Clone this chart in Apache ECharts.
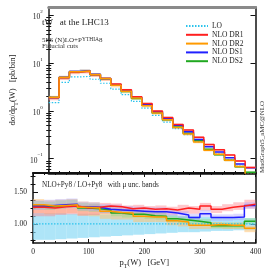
<!DOCTYPE html>
<html><head><meta charset="utf-8">
<script src="https://cdn.jsdelivr.net/npm/echarts@6/dist/echarts.min.js"></script>
<style>html,body{margin:0;padding:0;background:#fff}#c{width:270px;height:270px}</style>
</head><body><div id="c"></div>
<script>
// ---- data ----
const binEdges = [0,20,40,60,80,100,120,140,160,180,200,220,240,260,280,300,320,340,360,380,400];
// LO+Py8 cross section per bin [pb/bin]
const loXsec = [1.49,3.95,5.15,5.3,4.6,3.8,2.87,2.19,1.59,1.14,0.81,0.585,0.426,0.32,0.228,0.154,0.125,0.095,0.070,0.050];
// ratios NLO / LO (central)
const ratioLO  = [1,1,1,1,1,1,1,1,1,1,1,1,1,1,1,1,1,1,1,1];
const ratioDR1 = [1.26,1.25,1.27,1.28,1.25,1.26,1.28,1.27,1.24,1.25,1.23,1.24,1.22,1.25,1.23,1.28,1.23,1.26,1.28,1.31];
const ratioDR2 = [1.30,1.28,1.29,1.30,1.26,1.25,1.20,1.18,1.17,1.12,1.11,1.11,1.05,1.03,0.98,0.98,0.99,0.98,0.98,0.93];
const ratioDS1 = [1.28,1.29,1.30,1.31,1.27,1.26,1.23,1.22,1.21,1.20,1.19,1.19,1.17,1.14,1.10,1.16,1.10,1.10,1.11,1.29];
const ratioDS2 = [1.28,1.27,1.29,1.30,1.25,1.24,1.22,1.17,1.15,1.15,1.13,1.12,1.08,1.06,1.04,1.02,0.97,0.97,0.97,1.04];
// scale-uncertainty bands (ratio units)
const bandLOlo  = [0.75,0.75,0.76,0.77,0.78,0.79,0.80,0.81,0.82,0.83,0.84,0.85,0.86,0.87,0.87,0.88,0.89,0.89,0.90,0.90];
const bandLOhi  = [1.17,1.17,1.17,1.16,1.16,1.16,1.15,1.15,1.15,1.14,1.14,1.13,1.13,1.12,1.12,1.11,1.11,1.10,1.10,1.09];
const bandDR1lo = [1.12,1.12,1.14,1.15,1.13,1.14,1.16,1.16,1.14,1.15,1.14,1.15,1.14,1.17,1.16,1.21,1.17,1.20,1.22,1.24];
const bandDR1hi = [1.31,1.30,1.32,1.33,1.30,1.31,1.33,1.32,1.29,1.30,1.28,1.29,1.27,1.30,1.28,1.33,1.28,1.31,1.34,1.38];
const bandDR2lo = [1.17,1.15,1.16,1.17,1.13,1.12,1.08,1.07,1.07,1.03,1.03,1.03,0.98,0.96,0.92,0.92,0.93,0.92,0.92,0.87];
const bandDR2hi = [1.39,1.37,1.38,1.39,1.35,1.34,1.28,1.26,1.24,1.19,1.17,1.17,1.10,1.08,1.02,1.02,1.03,1.02,1.02,0.97];
const bandDS1lo = [1.22,1.23,1.24,1.25,1.21,1.20,1.17,1.16,1.15,1.14,1.14,1.14,1.12,1.09,1.05,1.11,1.05,1.05,1.06,1.24];
const bandDS1hi = [1.37,1.38,1.39,1.40,1.35,1.34,1.31,1.30,1.28,1.27,1.26,1.26,1.23,1.20,1.16,1.22,1.15,1.15,1.16,1.34];
const bandDS2lo = [1.23,1.22,1.24,1.25,1.20,1.19,1.17,1.12,1.10,1.10,1.08,1.07,1.03,1.01,0.99,0.97,0.93,0.93,0.93,1.00];
const bandDS2hi = [1.36,1.35,1.37,1.38,1.33,1.32,1.29,1.24,1.22,1.22,1.20,1.19,1.14,1.12,1.10,1.08,1.02,1.02,1.02,1.09];
// tick labels
const xTickLabels = [0,100,200,300,400];
const topDecades = [-1,0,1,2];
const ratioTickLabels = [1.0,1.5];
const legendNames = ['LO','NLO DR1','NLO DR2','NLO DS1','NLO DS2'];

// ---- build ----
const FONT = 'Liberation Serif, DejaVu Serif, serif';
const COL = {LO:'#2cc3ec', DR1:'#ff1f1f', DR2:'#ff9a00', DS1:'#2020ff', DS2:'#20a820'};
const BAND = {LO:'rgba(130,215,245,0.65)', DR1:'rgba(255,130,140,0.45)', DR2:'rgba(255,195,115,0.55)', DS1:'rgba(170,160,255,0.40)', DS2:'rgba(140,220,120,0.40)'};
const TOPMIN = -1.30, TOPMAX = Math.log10(150);

function stepData(vals, tf){
  const d = vals.map((v,i)=>[binEdges[i], tf(v)]);
  d.push([binEdges[binEdges.length-1], tf(vals[vals.length-1])]);
  return d;
}
const id = v=>v;
const lg = v=>Math.log10(v);
function mult(a,b){return a.map((v,i)=>v*b[i]);}

function bandSeries(xi, yi, lo, hi, color, z){
  return {type:'custom', xAxisIndex:xi, yAxisIndex:yi, z:z, silent:true, clip:true,
    data: lo.map((v,i)=>[binEdges[i], binEdges[i+1], v, hi[i]]),
    encode:{x:[0,1], y:[2,3]},
    renderItem:function(params, api){
      const p0 = api.coord([api.value(0), api.value(3)]);
      const p1 = api.coord([api.value(1), api.value(2)]);
      return {type:'rect', shape:{x:p0[0], y:p0[1], width:p1[0]-p0[0], height:p1[1]-p0[1]}, style:{fill:color}};
    }};
}
function lineSeries(name, xi, yi, data, color, dotted, z){
  return {type:'line', name:name, xAxisIndex:xi, yAxisIndex:yi, data:data, step:'end', symbol:'none', showSymbol:false, z:z,
    silent:true, animation:false, clip:true,
    lineStyle:{color:color, width: dotted?1.2:1.5, type: dotted?[1.5,1.5]:'solid'}, itemStyle:{color:color}};
}

const minorLog = [];
for (let n=-2;n<=2;n++) for (let k=2;k<=9;k++){ const v=n+Math.log10(k); if (v>TOPMIN+0.01 && v<TOPMAX) minorLog.push(v); }
const ratioMinor = [0.75,0.875,1.125,1.25,1.375,1.625,1.75];

const series = [];
const sets = [
  ['LO', ratioLO, bandLOlo, bandLOhi],
  ['DR2', ratioDR2, bandDR2lo, bandDR2hi],
  ['DR1', ratioDR1, bandDR1lo, bandDR1hi],
  ['DS2', ratioDS2, bandDS2lo, bandDS2hi],
  ['DS1', ratioDS1, bandDS1lo, bandDS1hi]
];
sets.forEach((s,k)=>{
  if (s[0] !== 'LO') series.push(bandSeries(0, 0, mult(loXsec,s[2]).map(lg), mult(loXsec,s[3]).map(lg), BAND[s[0]], 1+k));
  series.push(bandSeries(2, 4, s[2], s[3], BAND[s[0]], 1+k));
});
const lineOrder = [['LO','LO',ratioLO],['NLO DS2','DS2',ratioDS2],['NLO DS1','DS1',ratioDS1],['NLO DR1','DR1',ratioDR1],['NLO DR2','DR2',ratioDR2]];
lineOrder.forEach((l,k)=>{
  const dotted = l[1]==='LO';
  series.push(lineSeries(l[0], 0, 0, stepData(mult(loXsec,l[2]), lg), COL[l[1]], dotted, 20+k));
  series.push(lineSeries(l[0], 2, 4, stepData(l[2], id), COL[l[1]], dotted, 20+k));
});

const grids = [
  {left:33, right:14.5, top:7, height:166},
  {left:33, right:14.5, top:173, height:72}
];
const blk = '#111';
function xAx(gi, pos, opts){
  return Object.assign({type:'value', gridIndex:gi, position:pos, min:0, max:400, interval:100,
    splitLine:{show:false}, axisLabel:{show:false},
    axisLine:{show:true, onZero:false, lineStyle:{color:blk, width:1.5}},
    axisTick:{show:false}, minorTick:{show:false}}, opts);
}
const xAxis = [
  xAx(0,'bottom',{axisLine:{show:true,onZero:false,lineStyle:{color:blk,width:2.5}}, axisTick:{show:true,inside:true,length:4,lineStyle:{color:blk,width:1}}, minorTick:{show:true,splitNumber:5,length:2,lineStyle:{color:blk,width:1}}}),
  xAx(0,'top',{axisLine:{show:true,onZero:false,lineStyle:{color:'#8a8a8a',width:3}}}),
  xAx(1,'bottom',{axisLine:{show:true,onZero:false,lineStyle:{color:blk,width:1.5}}, axisTick:{show:true,inside:true,length:4,lineStyle:{color:blk,width:1}}, minorTick:{show:true,splitNumber:5,length:2,lineStyle:{color:blk,width:1}},
    axisLabel:{show:true, margin:5, fontFamily:FONT, fontSize:7.5, color:'#222', customValues:xTickLabels},
    name:'{a|p}{s|T}{a|(W)   [GeV]}', nameLocation:'middle', nameGap:15,
    nameTextStyle:{rich:{a:{fontFamily:FONT,fontSize:8.5,color:'#222',verticalAlign:'top',lineHeight:11},s:{fontFamily:FONT,fontSize:6,color:'#222',verticalAlign:'bottom',lineHeight:11}}}}),
  xAx(1,'top',{axisLine:{show:true,onZero:false,lineStyle:{color:blk,width:2}}, axisTick:{show:true,inside:true,length:4,lineStyle:{color:blk,width:1}}, minorTick:{show:true,splitNumber:5,length:2,lineStyle:{color:blk,width:1}}})
];
function yAx(gi, pos, min, max, opts){
  return Object.assign({type:'value', gridIndex:gi, position:pos, min:min, max:max,
    splitLine:{show:false}, axisLabel:{show:false},
    axisLine:{show:false}, axisTick:{show:false}}, opts);
}
const sup = v => (v<0 ? '\u2212'+(-v) : ''+v);
const yAxis = [
  yAx(0,'left',TOPMIN,TOPMAX,{axisLine:{show:true,onZero:false,lineStyle:{color:'#222',width:1.5}},
    axisTick:{show:true,inside:true,length:5,customValues:topDecades,lineStyle:{color:blk,width:1}},
    axisLabel:{show:true,customValues:topDecades,margin:6,
      formatter:v=>'{b|10}{s|'+sup(Math.round(v))+'}',
      rich:{b:{fontFamily:FONT,fontSize:7.5,color:'#222',lineHeight:12,verticalAlign:'bottom'},
            s:{fontFamily:FONT,fontSize:5,color:'#222',lineHeight:12,verticalAlign:'top'}}},
    name:'{a|d\u03c3/dp}{s|T}{a|(W)   [pb/bin]}', nameLocation:'middle', nameGap:17, nameRotate:90,
    nameTextStyle:{rich:{a:{fontFamily:FONT,fontSize:8.5,color:'#222',verticalAlign:'top',lineHeight:11},s:{fontFamily:FONT,fontSize:6,color:'#222',verticalAlign:'bottom',lineHeight:11}}}}),
  yAx(0,'left',TOPMIN,TOPMAX,{axisTick:{show:true,inside:true,length:2.5,customValues:minorLog,lineStyle:{color:blk,width:1}}}),
  yAx(0,'right',TOPMIN,TOPMAX,{axisLine:{show:true,onZero:false,lineStyle:{color:blk,width:1.5}},
    axisTick:{show:true,inside:true,length:5,customValues:topDecades,lineStyle:{color:blk,width:1}}}),
  yAx(0,'right',TOPMIN,TOPMAX,{axisTick:{show:true,inside:true,length:2.5,customValues:minorLog,lineStyle:{color:blk,width:1}}}),
  yAx(1,'left',0.7,1.8,{axisLine:{show:true,onZero:false,lineStyle:{color:blk,width:1.5}},
    axisTick:{show:true,inside:true,length:5,customValues:ratioTickLabels,lineStyle:{color:blk,width:1}},
    axisLabel:{show:true,customValues:ratioTickLabels,margin:6,fontFamily:FONT,fontSize:7.5,color:'#222',formatter:v=>v.toFixed(2)}}),
  yAx(1,'left',0.7,1.8,{axisTick:{show:true,inside:true,length:2.5,customValues:ratioMinor,lineStyle:{color:blk,width:1}}}),
  yAx(1,'right',0.7,1.8,{axisLine:{show:true,onZero:false,lineStyle:{color:blk,width:1.5}},
    axisTick:{show:true,inside:true,length:5,customValues:ratioTickLabels,lineStyle:{color:blk,width:1}}}),
  yAx(1,'right',0.7,1.8,{axisTick:{show:true,inside:true,length:2.5,customValues:ratioMinor,lineStyle:{color:blk,width:1}}})
];

// measure text widths for the small-caps subtitle pieces
const mctx = document.createElement('canvas').getContext('2d');
function tw(t, size){ mctx.font = size+'px '+FONT; return mctx.measureText(t).width; }
const subA = '5FS (N)LO+P', subB = 'YTHIA', subC = '8';
const xA = 42, xB = xA + tw(subA,7), xC = xB + tw(subB,5.5);

const chart = echarts.init(document.getElementById('c'), null, {renderer:'canvas'});
chart.setOption({
  animation:false,
  backgroundColor:'#fff',
  grid:grids, xAxis:xAxis, yAxis:yAxis, series:series,
  legend:{data:legendNames, orient:'vertical', left:180, top:17, itemWidth:22, itemHeight:6, itemGap:0.8,
    itemStyle:{opacity:0}, lineStyle:{width:2},
    textStyle:{fontFamily:FONT, fontSize:7.5, color:'#222', padding:[0,0,0,-1]}, selectedMode:false},
  graphic:[
    {type:'text', x:42, y:23, style:{text:'tW   at the LHC13', fontFamily:FONT, fontSize:9, fill:'#222', verticalAlign:'middle'}},
    {type:'text', x:xA, y:37, style:{text:subA, fontFamily:FONT, fontSize:7, fill:'#333', verticalAlign:'alphabetic'}},
    {type:'text', x:xB, y:37, style:{text:subB, fontFamily:FONT, fontSize:5.5, fill:'#333', verticalAlign:'alphabetic'}},
    {type:'text', x:xC, y:37, style:{text:subC, fontFamily:FONT, fontSize:7, fill:'#333', verticalAlign:'alphabetic'}},
    {type:'text', x:42, y:46, style:{text:'Fiducial cuts', fontFamily:FONT, fontSize:7, fill:'#333', verticalAlign:'middle'}},
    {type:'text', x:42, y:185, style:{text:'NLO+Py8 / LO+Py8   with \u03bc unc. bands', fontFamily:FONT, fontSize:7.2, fill:'#222', verticalAlign:'middle'}},
    {type:'text', x:262, y:137, rotation:Math.PI/2, style:{text:'MadGraph5_aMC@NLO', fontFamily:FONT, fontSize:7, fill:'#333', align:'center', verticalAlign:'middle'}}
  ]
});
</script></body></html>
